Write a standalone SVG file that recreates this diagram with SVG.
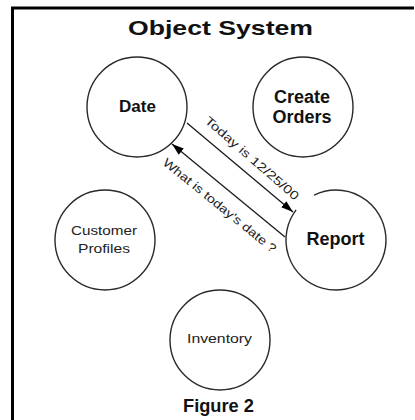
<svg xmlns="http://www.w3.org/2000/svg" width="415" height="420" viewBox="0 0 415 420">
<defs>
<style>
.node{fill:none;stroke:#2a2a2a;stroke-width:1.4}
.b{font-family:"Liberation Sans",Arial,sans-serif;font-weight:bold;fill:#111;text-anchor:middle}
.r{font-family:"Liberation Sans",Arial,sans-serif;fill:#222;text-anchor:middle}
.lab{font-family:"Liberation Sans",Arial,sans-serif;fill:#222;font-size:12px}
.conn{stroke:#1a1a1a;stroke-width:1.3;fill:none}
</style>
<marker id="ah" viewBox="0 0 12 8" refX="12" refY="4" markerWidth="12" markerHeight="8" markerUnits="userSpaceOnUse" orient="auto-start-reverse">
<path d="M0,0 L12,4 L0,8 Z" fill="#000"/>
</marker>
</defs>
<rect width="415" height="420" fill="#fff"/>
<path d="M12.5 420 V8 H414" fill="none" stroke="#000" stroke-width="3"/>
<text class="b" x="220.5" y="35" font-size="21" textLength="185" lengthAdjust="spacingAndGlyphs">Object  System</text>
<g id="date"><circle class="node" cx="137" cy="107" r="50"/><text class="b" x="137.5" y="112" font-size="17">Date</text></g>
<g id="create-orders"><circle class="node" cx="303" cy="107" r="50"/><text class="b" x="302" y="103" font-size="18">Create</text><text class="b" x="302" y="123" font-size="18">Orders</text></g>
<g id="report"><path class="node" d="M314.1 195.1 A50 50 0 1 1 296.1 209.9"/><text class="b" x="335.5" y="245" font-size="18">Report</text></g>
<g id="customer-profiles"><circle class="node" cx="105" cy="240" r="50"/><text class="r" x="104" y="235" font-size="13" textLength="66" lengthAdjust="spacingAndGlyphs">Customer</text><text class="r" x="104" y="253" font-size="13" textLength="52" lengthAdjust="spacingAndGlyphs">Profiles</text></g>
<g id="inventory"><circle class="node" cx="220" cy="340" r="50"/><text class="r" x="219.5" y="343" font-size="13" textLength="65" lengthAdjust="spacingAndGlyphs">Inventory</text></g>
<g id="connectors">
<line class="conn" x1="187" y1="123" x2="293" y2="212" marker-end="url(#ah)"/>
<text class="lab" transform="translate(204 122) rotate(41)" font-size="12.5" textLength="120" lengthAdjust="spacingAndGlyphs">Today is  12/25/00</text>
<line class="conn" x1="172" y1="144" x2="285" y2="237" marker-start="url(#ah)"/>
<text class="lab" transform="translate(162 164) rotate(39)" font-size="12.5" textLength="142" lengthAdjust="spacingAndGlyphs">What is today's date ?</text>
</g>
<text class="b" x="218.5" y="412" font-size="18" textLength="71" lengthAdjust="spacingAndGlyphs">Figure 2</text>
</svg>
